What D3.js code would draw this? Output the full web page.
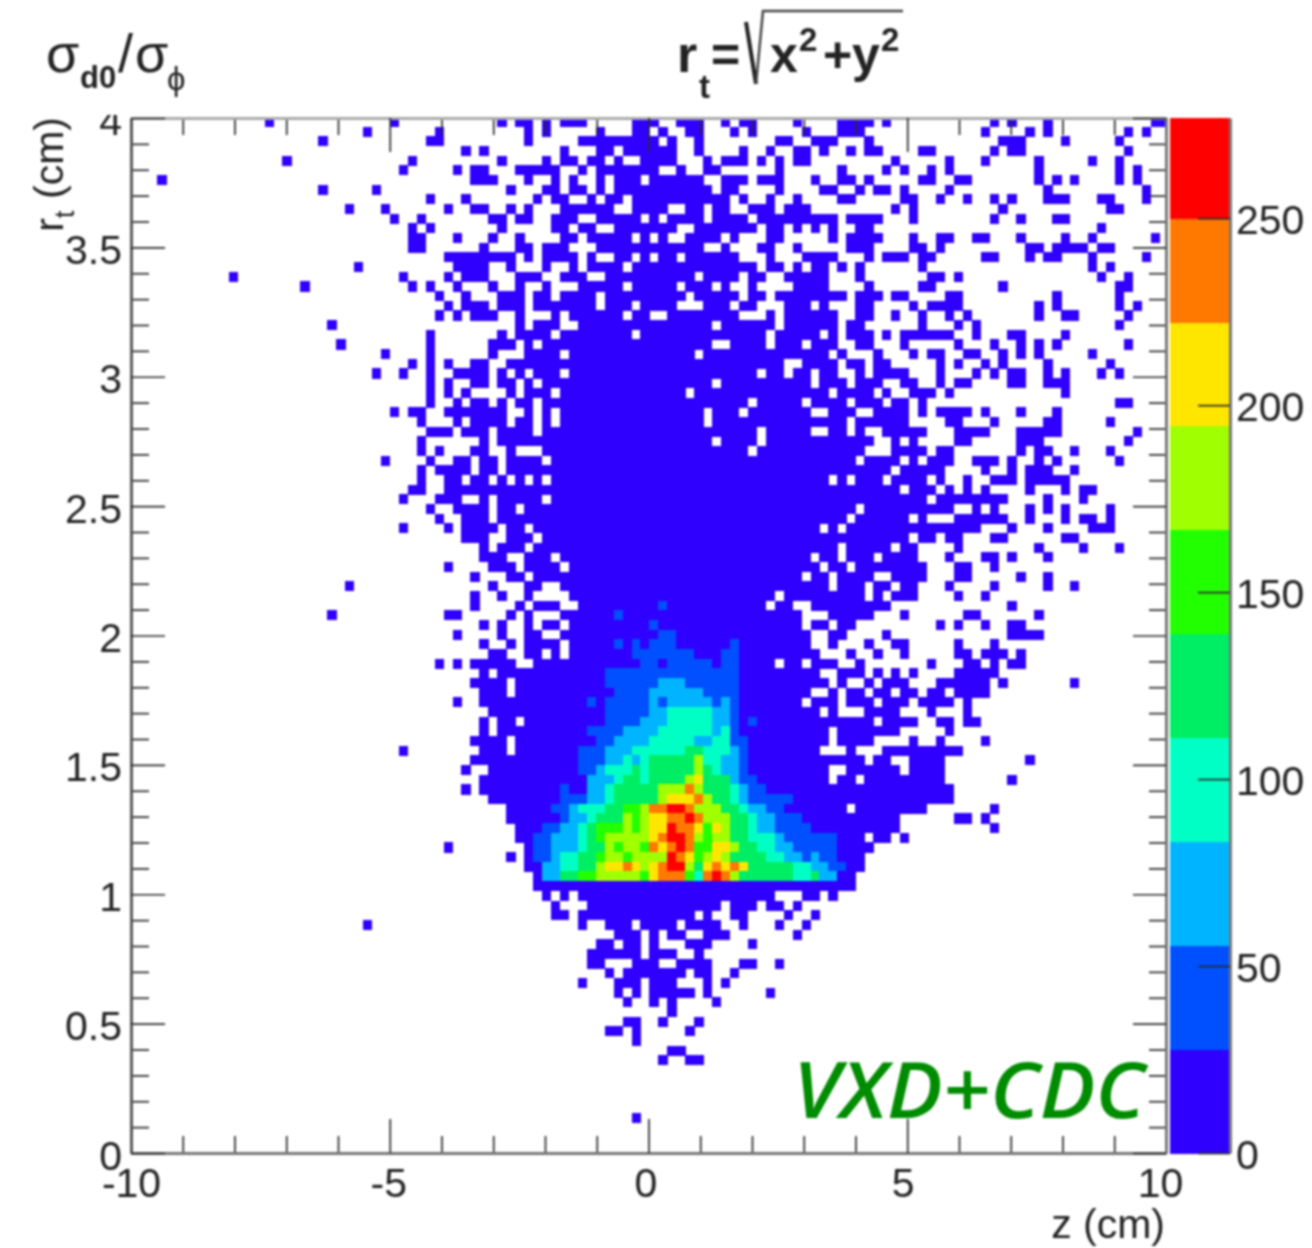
<!DOCTYPE html>
<html>
<head>
<meta charset="utf-8">
<script src="https://cdnjs.cloudflare.com/ajax/libs/d3/7.8.5/d3.min.js"></script>
<style>
  html, body { margin: 0; background: #fff; }
  svg { display: block; filter: blur(0.8px); }
  text { font-family: "Liberation Sans", sans-serif; fill: #222; }
</style>
</head>
<body>
<div id="chart"></div>
<script>
// bin ranges filled in each row of the histogram, top row first
const filledRows = [
  "15 29 41 43-44 46 48-50 56-58 61-63 66 68-69 74 79-82 84 96 98 102 114-115",
  "26 34 44 46 52 56-57 59 62-63 67 69 75 79-81 95 100 102 111 113",
  "21 33-34 44 50-58 60 63 72-73 76-78 82 97-99 104 110",
  "37 39 48 52-53 55-60 63 68 71 74-75 77 80 82-83 88-89 96 98-99 111",
  "17 31 41 46 48-49 51-52 54 57-60 64 66-68 70 72 74-75 85 91 95 101 107 110",
  "30 36 38-39 43-47 50 52-58 61 64-65 72 79 84 86 89 91 101 110 112",
  "3 38-40 44 47 49 52 54-56 58-63 66-68 70-72 76 79-80 82 88-89 92-93 101 103 105 110 112",
  "21 27 42 46-47 49-50 52 54-64 66-67 72 77-78 81 83-84 86 91 102 113",
  "33 37 45 47-48 51 53-54 56-66 68 71 74 79-80 86-87 90 93 96 98 102-104 108-109 113",
  "24 28 35 38-39 42 44 48-53 56-59 62-63 65-66 69-71 73-75 85 87 97 109-110",
  "29 32 40-41 43-44 47-49 52-56 58 60-63 65-68 70-78 80-83 87 96 99 103-104",
  "31 33 41 47-48 50-51 54-60 63-69 71-72 74 76 78 81-82 108",
  "31-32 36 40 43 48-49 51-55 57 59 62-65 67 71-72 78 80-83 87 90-91 94-95 99 104 107 114",
  "31-32 39 43-44 46-48 52-63 66 70-71 74 80-82 87-88 90 100-101 103-106 108-109",
  "35-42 44 46-49 51 54-55 57 59-60 62-67 71 75-78 82 84-86 88-89 95-96 100 102-103 107 113",
  "25 36-39 42 46 49 51-54 56-69 71-72 74 76-77 79 81 88 107 109",
  "11 30 35 37-39 43-45 48-50 53-62 64-67 69-70 73-77 81 89-90 92 108 111",
  "19 31 33 36 40 43 46 50-54 56-60 62-64 66 69 74-77 82 88-89 97 110-111",
  "34 37 41-43 45-46 48-51 53-61 63-67 69-70 72-79 81-83 85-86 91-92 103 110",
  "35 37-39 41-43 45-51 53-55 57-60 64-66 68-69 73-75 77 81-82 87 89-92 101 103 110 112",
  "34 36 38-40 43 47 49-54 56-57 60-67 71 73-78 81-82 85 88 91 93 101 104-105 111",
  "22 43 45-47 50-64 66-71 73-78 80-81 88 92 94 110",
  "33 41 43-46 48-55 57-70 72-76 78 80-82 84 86-91 94 98-99 104",
  "23 33 40-42 44 46-64 67-70 72-74 76-78 81-82 86 92 96 99 101 103 111",
  "28 33 40 44-47 49-62 64-77 79 83 87 89-90 93-94 97 99 101 107",
  "31 33 35 38-39 42-72 75-78 80-81 83-84 90 92 95 97 102 109",
  "27 30 33 36-39 41 43 45-47 49-69 71-72 74-75 77-78 81 83-86 90 94 96 98-99 102 104 108 110",
  "33 35 38-39 41-42 44 46-64 66-75 77-79 81-83 86-87 90 92-93 98-99 102-104",
  "33 35 37 42 44-46 48-61 63-77 79-82 84 87-89 91 104",
  "33 36 38-39 41 43-44 46-68 70-74 76-79 81-83 85-86 88 110-111",
  "29 31-32 35-41 44 46 48-63 65-67 69-75 78-80 83-86 88 90-93 95 99 103",
  "32 36 38-41 43-44 46 48-63 65-79 81-86 91-92 96 102-103 109",
  "33-35 37-39 41-44 46-69 71-75 78-79 81 84-88 92-95 99-103 112",
  "32 39 41-64 66-69 71-82 85 87 92-93 99-101 111",
  "32 34 38-39 42 46-68 70-81 85-88 90-91 99 101-102 105 109",
  "28 33 36-37 39-40 42-45 47-80 82-85 87 89-91 94-96 98 101 103 110",
  "32 34-37 39-40 42-84 86-90 95 98 100-102 105",
  "32 35-36 38-39 41 43 45 47-77 79 81-83 85-88 90 93 96-98 100-104",
  "31-32 35-85 87-89 91 93 95 100 104 106-107",
  "30 34-36 39 41-45 47-88 90-97 102 106",
  "33 36-39 41-42 44-80 82-91 94 96 100 102 104 109",
  "34 37-39 41-79 81-86 88 92-97 100 104 106-107 109",
  "30 35 37-40 42-43 45-76 78 80-94 98 102 107-109",
  "37-39 42-44 46-86 88-89 91-92 96-97 104-105",
  "39 41-43 45-78 80-84 86-87 92 101 106 110",
  "39-41 44-46 48-75 77-78 80-82 84-87 91 95-96 98 102",
  "35 40-42 44-47 49-76 78-79 81-88 92-93 96",
  "38 42-43 45-74 76-77 79-82 85-88 92-93 99 102",
  "24 40 44-45 48-77 79-81 83-84 86-87 91 96 102 105",
  "38 41 44 49-71 73-81 83 85-87 92 95",
  "38 43 45-47 50-70 72-73 76-84 98",
  "22 35-36 42 44 48-74 78-82 86 93-94 101",
  "39 41 44 46-47 49-74 76-77 79-80 90 92 95 98-99",
  "36 41 44-45 48-75 78-79 84 98-101",
  "39 42 44-47 49-75 78 82 85-86 92 96",
  "40-41 44-45 47 49-76 80 83 86 92-93 95-97 99",
  "34 36 38-42 45-71 73-74 76-78 81 89 93-94 96 98-99",
  "39 41-76 79-81 83 85 87 92-96",
  "38-41 43-77 79 82 84-86 90-95 97 105",
  "39-41 43-75 78 80-81 83-84 86-87 89-90 92-95",
  "36 39-74 76-78 80-82 84-86 88-91 93",
  "40-76 78 82-85 89 93",
  "39 41-42 44-82 84-87 90-91 93-94",
  "39 41-77 79-85 91",
  "38-41 43-77 79-82 87 90 95",
  "30 39-41 43-76 80 84-92",
  "38-81 83-84 87-90 100",
  "37 40-77 80-85 87-90",
  "39-77 79-80 82-90 98",
  "37 39-91",
  "40-91",
  "42-79 81-88 96",
  "42-85 92-93 95",
  "43-85 96",
  "43-81 83-84 86",
  "35 44-82",
  "42 44-81",
  "44-81",
  "45-80",
  "45-80",
  "46 48 50-71 75-76 78",
  "47 51-65 67-69 71-72 74",
  "47-48 50-62 64 67-68 73 76",
  "26 50 53-55 57-60 62-65 68 72 75",
  "54-56 58 60-61 64-66 74",
  "52-53 55-56 58 62-64 69",
  "51-56 58-60 63",
  "51-52 56-58 61-64 68-69 72",
  "53 55-61 63-64 67",
  "50 54-56 58-60 64 66",
  "54 56 58-62 64 71",
  "55 58 60 65",
  "60",
  "55-56 59 63",
  "53-54 56 62",
  "56",
  "60-61",
  "59 62-63",
  "", "", "", "", "",
  "56",
  "", "", ""
];

// rows with higher counts: first row, then "bins:band" for each row
const coreStartRow = 50;
const coreRows = [
  "59:1",
  "54:1",
  "58:1",
  "59-60:1",
  "54:1 56:1 58-60:1 67:1",
  "56-62:1 66-67:1",
  "57-58:1 60-64:1 66-67:1",
  "53-67:1",
  "53-58:1 59-61:2 62-67:1",
  "54-57:1 58-63:2 64-67:1",
  "51:1 53-57:1 58:2 59:1 60-64:2 65:1 66:2 67:1",
  "53-57:1 58-59:2 60-64:3 65-66:2 67:1",
  "53-56:1 57-59:2 60-64:3 65-66:2 67:1 69:1",
  "51-54:1 55-58:2 59-64:3 65:2 66:3 67:1",
  "52-53:1 54-57:2 58-62:3 63-64:2 65-66:3 67-68:1",
  "50-52:1 53-55:2 56-61:3 62-63:4 64-66:3 67:2 68:1",
  "50-52:1 53-54:2 55:3 56:2 57:3 58-62:4 63:6 64-65:3 66-67:2 68:1",
  "50-51:1 52:2 53-55:3 56:4 57:3 58-62:4 63:6 64:4 65:3 66-67:2 68:1",
  "51-53:2 54:3 55-56:4 57:3 58-61:4 62:6 63:7 64-66:4 67:2 68-69:1",
  "48:1 51-52:2 53:3 54-58:4 59-61:6 62:8 63:6 64-66:4 67:3 68:2 69-70:1",
  "48-50:1 51-52:2 53:3 54-58:4 59:6 60-62:7 63:8 64:6 65-66:4 67:3 68:2 69-73:1",
  "47-48:1 49:2 50-52:3 53-54:4 55-56:5 57:6 58-59:8 60-61:9 62:8 63-65:6 66-67:4 68:3 69-70:2 71-72:1",
  "48:1 49-50:2 51:3 52-54:4 55:6 56:5 57:6 58-59:7 60-61:8 62:9 63:8 64-66:6 67-68:4 69:3 70-71:2 72-74:1",
  "46-47:1 48-49:2 50:3 51:4 52-54:5 55:6 56:5 57:6 58-59:7 60:9 61-62:8 63:7 64:5 65:7 66:6 67-68:4 69:3 70-71:2 72-75:1",
  "45-46:1 47-49:2 50:3 51:4 52:5 53-57:6 58:7 59:8 60-61:9 62:8 63:6 64:5 65-66:6 67-68:4 69-71:3 72:2 73-78:1",
  "45-46:1 47-49:2 50:3 51-52:4 53:6 54:5 55-56:6 57:5 58:8 59:7 60:8 61:9 62:8 63-64:5 65-66:7 67:6 68-69:4 70-71:3 72-73:2 74-78:1",
  "45-46:1 47:2 48-49:3 50-51:4 52:5 53-54:6 55:5 56-59:6 60:9 61:8 62:7 63:5 64:6 65:7 66:6 67-70:4 71-72:3 73-74:2 75:1 76:2 77-78:1",
  "46-47:2 48-49:3 50-51:4 52:6 53-54:7 55:8 56:7 57:6 58:7 59:8 60-61:9 62:6 63:4 64:7 65:8 66:7 67:8 68:7 69-73:4 74-75:3 76-77:2 78-79:1",
  "46-47:2 48-49:4 50-51:5 52-56:6 57:5 58:7 59-61:8 62:5 63:3 64:8 65:9 66:8 67:6 68-73:4 74-75:3 76:4 77-78:2"
];

// typical count for each colour band
const bandCounts = [10, 41, 69, 97, 124, 152, 180, 207, 235, 263];
const paletteColors = ["#3000ff", "#0050ff", "#00b4ff", "#00ffc4", "#00ee64", "#22ff00", "#a0ff00", "#ffe600", "#ff7800", "#ff0000"];

const xMajor = [-10, -5, 0, 5, 10];
const yMajor = [0, 0.5, 1, 1.5, 2, 2.5, 3, 3.5, 4];
const zMajor = [0, 50, 100, 150, 200, 250];
const zMax = 276.8;
const zStep = 250 / 9;

const plotLeft = 131, plotRight = 1166, plotTop = 118, plotBottom = 1153;
const barLeft = 1170, barRight = 1230;
const fontSize = 41;

function parseSpans(str) {
  if (!str) return [];
  return str.split(" ").map(function(s) {
    let parts = s.split(":");
    let ends = parts[0].split("-").map(Number);
    return { from: ends[0], to: ends.length > 1 ? ends[1] : ends[0], band: parts.length > 1 ? +parts[1] : 0 };
  });
}

// Build the cell list, one entry per filled bin
let cellMap = new Map();
filledRows.forEach(function(str, row) {
  parseSpans(str).forEach(function(sp) {
    d3.range(sp.from, sp.to + 1).forEach(function(col) {
      cellMap.set(row + "_" + col, { row: row, col: col, count: bandCounts[0] });
    });
  });
});
coreRows.forEach(function(str, i) {
  let row = coreStartRow + i;
  parseSpans(str).forEach(function(sp) {
    d3.range(sp.from, sp.to + 1).forEach(function(col) {
      cellMap.set(row + "_" + col, { row: row, col: col, count: bandCounts[sp.band] });
    });
  });
});
const cells = Array.from(cellMap.values());

const svg = d3.select("#chart").append("svg")
  .attr("width", 1312)
  .attr("height", 1248);

const xScale = d3.scaleLinear().domain([-10, 10]).range([plotLeft, plotRight]);
const yScale = d3.scaleLinear().domain([0, 4]).range([plotBottom, plotTop]);
const zScale = d3.scaleLinear().domain([0, zMax]).range([plotBottom, plotTop]);
const color = d3.scaleQuantize().domain([0, zStep * 10]).range(paletteColors);

const colBand = d3.scaleBand().domain(d3.range(116)).range([130.3, 1168.5]);
const rowBand = d3.scaleBand().domain(d3.range(107)).range([117, 1152]);

svg.append("clipPath").attr("id", "frame")
  .append("rect")
  .attr("x", plotLeft).attr("y", plotTop)
  .attr("width", plotRight - plotLeft).attr("height", plotBottom - plotTop);

svg.append("g")
  .attr("clip-path", "url(#frame)")
  .attr("shape-rendering", "crispEdges")
  .selectAll("rect")
  .data(cells)
  .join("rect")
  .attr("x", d => colBand(d.col))
  .attr("y", d => rowBand(d.row))
  .attr("width", colBand.bandwidth() + 0.4)
  .attr("height", rowBand.bandwidth() + 0.4)
  .attr("fill", d => color(d.count));

// Palette bar, the top band is cut by the end of the axis
svg.append("g")
  .attr("shape-rendering", "crispEdges")
  .selectAll("rect")
  .data(bandCounts)
  .join("rect")
  .attr("x", barLeft)
  .attr("width", barRight - barLeft)
  .attr("y", (d, i) => zScale(Math.min((i + 1) * zStep, zMax)))
  .attr("height", (d, i) => zScale(i * zStep) - zScale(Math.min((i + 1) * zStep, zMax)) + 0.5)
  .attr("fill", d => color(d));

function styleAxis(g, frameColor, frameWidth) {
  g.selectAll(".domain").attr("stroke", frameColor).attr("stroke-width", frameWidth);
  g.selectAll(".tick line").attr("stroke", "#2a2a2a").attr("stroke-width", 1.7);
  g.selectAll("text").attr("font-size", fontSize).attr("fill", "#222")
    .attr("font-family", '"Liberation Sans", sans-serif');
}

const xMinor = d3.range(-10, 10.5, 1).filter(d => !xMajor.includes(d));
const yMinor = d3.range(0, 41).map(d => d / 10).filter(d => !yMajor.includes(d));

// bottom axis
svg.append("g").attr("transform", `translate(0,${plotBottom})`)
  .call(d3.axisBottom(xScale).tickValues(xMinor).tickSize(-17).tickSizeOuter(0).tickFormat(""))
  .call(styleAxis, "#777", 3);
svg.append("g").attr("transform", `translate(0,${plotBottom})`)
  .call(d3.axisBottom(xScale).tickValues(xMajor).tickSize(-34).tickSizeOuter(0).tickPadding(16).tickFormat(d => String(d)))
  .call(styleAxis, "#777", 3)
  .call(g => g.selectAll("text").attr("dy", 0).attr("y", 44).attr("x", d => -(d + 10) * 0.3));

// top axis
svg.append("g").attr("transform", `translate(0,${plotTop})`)
  .call(d3.axisTop(xScale).tickValues(xMinor).tickSize(-17).tickSizeOuter(0).tickFormat(""))
  .call(styleAxis, "#aaa", 3);
svg.append("g").attr("transform", `translate(0,${plotTop})`)
  .call(d3.axisTop(xScale).tickValues(xMajor).tickSize(-34).tickSizeOuter(0).tickFormat(""))
  .call(styleAxis, "#aaa", 3);

// left axis
svg.append("clipPath").attr("id", "topcut")
  .append("rect").attr("x", -140).attr("y", 115).attr("width", 280).attr("height", 1100);
svg.append("g").attr("transform", `translate(${plotLeft},0)`)
  .call(d3.axisLeft(yScale).tickValues(yMinor).tickSize(-18).tickSizeOuter(0).tickFormat(""))
  .call(styleAxis, "#555", 2.5);
svg.append("g").attr("transform", `translate(${plotLeft},0)`).attr("clip-path", "url(#topcut)")
  .call(d3.axisLeft(yScale).tickValues(yMajor).tickSize(-34).tickSizeOuter(0).tickPadding(9).tickFormat(d => String(d)))
  .call(styleAxis, "#555", 2.5)
  .call(g => g.selectAll("text").attr("dy", 0).attr("y", 16));

// right axis of the frame
svg.append("g").attr("transform", `translate(${plotRight},0)`)
  .call(d3.axisRight(yScale).tickValues(yMinor).tickSize(-17).tickSizeOuter(0).tickFormat(""))
  .call(styleAxis, "#777", 3);
svg.append("g").attr("transform", `translate(${plotRight},0)`)
  .call(d3.axisRight(yScale).tickValues(yMajor).tickSize(-33).tickSizeOuter(0).tickFormat(""))
  .call(styleAxis, "#777", 3);

// palette axis
svg.append("g").attr("transform", `translate(${barRight},0)`)
  .call(d3.axisRight(zScale).tickValues(zMajor).tickSize(-32).tickSizeOuter(0).tickPadding(6).tickFormat(d => String(d)))
  .call(styleAxis, "#777", 3)
  .call(g => g.selectAll("text").attr("dy", 0).attr("y", 15));

function label(x, y, str, size, weight, anchor) {
  return svg.append("text")
    .attr("x", x).attr("y", y)
    .attr("font-size", size)
    .attr("font-weight", weight || "normal")
    .attr("text-anchor", anchor || "start")
    .text(str);
}

// x title
label(1165, 1238, "z (cm)", fontSize, "normal", "end");

// y title, reading upwards
const yTitle = svg.append("text")
  .attr("transform", "translate(63,117) rotate(-90)")
  .attr("text-anchor", "end")
  .attr("font-size", fontSize);
yTitle.append("tspan").text("r");
yTitle.append("tspan").attr("font-size", 28).attr("dy", 11).text("t");
yTitle.append("tspan").attr("dy", -11).text(" (cm)");

// top left title
label(46, 72, "σ", 54);
label(80, 88, "d0", 31, "bold");
label(118, 72, "/", 54);
label(135, 72, "σ", 54);
label(167, 90, "ϕ", 33);

// formula title
label(677, 72, "r", 52, "bold");
label(699, 98, "t", 33, "bold");
label(711, 72, "=", 50, "bold");
label(770, 72, "x", 50, "bold");
label(799, 51, "2", 33, "bold");
label(823, 72, "+", 50, "bold");
label(852, 72, "y", 50, "bold");
label(881, 51, "2", 33, "bold");

// square root sign: heavy down stroke, thin rising stroke and bar
const radicalDown = d3.path();
radicalDown.moveTo(746, 22);
radicalDown.lineTo(756, 84);
svg.append("path")
  .attr("d", radicalDown.toString())
  .attr("fill", "none")
  .attr("stroke", "#222")
  .attr("stroke-width", 4);

const radicalUp = d3.path();
radicalUp.moveTo(756, 84);
radicalUp.lineTo(763, 11);
radicalUp.lineTo(903, 11);
svg.append("path")
  .attr("d", radicalUp.toString())
  .attr("fill", "none")
  .attr("stroke", "#444")
  .attr("stroke-width", 2.5);

// detector label
svg.append("text")
  .attr("x", 793).attr("y", 1118)
  .attr("font-size", 77)
  .attr("font-style", "italic")
  .attr("font-weight", 600)
  .attr("textLength", 352)
  .attr("lengthAdjust", "spacingAndGlyphs")
  .style("font-family", '"Open Sans", sans-serif')
  .style("fill", "#008c00")
  .text("VXD+CDC");
</script>
</body>
</html>
